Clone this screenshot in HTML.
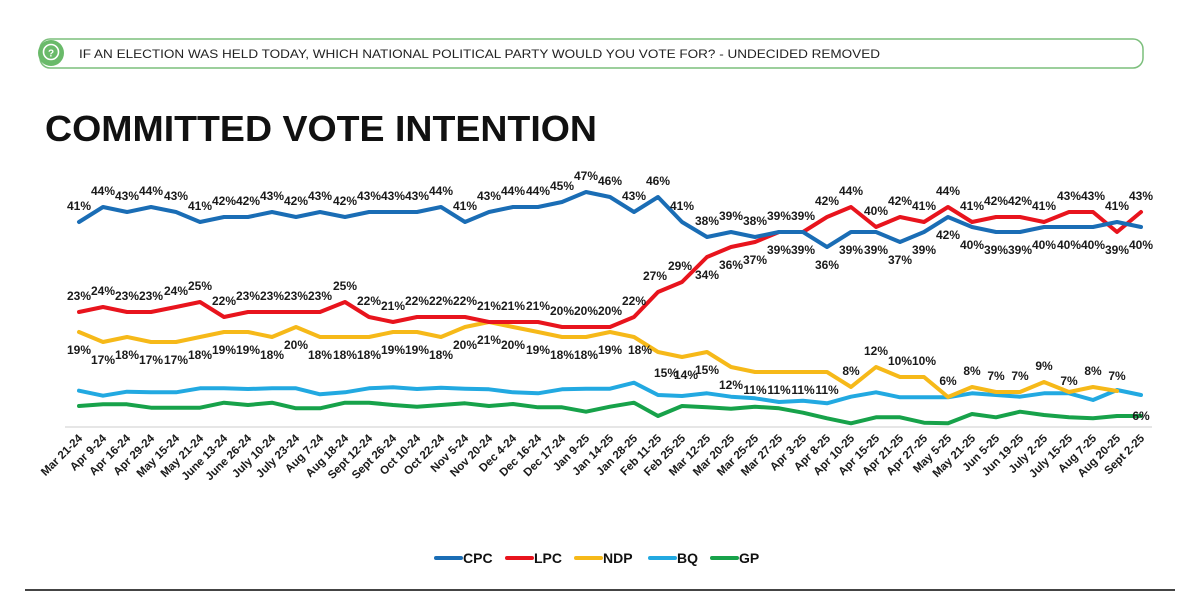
<!DOCTYPE html>
<html><head><meta charset="utf-8"><style>
html,body{margin:0;padding:0;background:#fff;}
svg{display:block;font-family:"Liberation Sans",sans-serif;}
.l{font-size:12px;font-weight:bold;fill:#1a1a1a;text-anchor:middle;}
.x{font-size:11.5px;font-weight:bold;fill:#1a1a1a;text-anchor:end;}
</style></head><body>
<svg width="1200" height="600" viewBox="0 0 1200 600" xmlns="http://www.w3.org/2000/svg">
<rect x="40" y="39" width="1103" height="29" rx="10" fill="#fff" stroke="#7cbf7c" stroke-width="1.5"/>
<circle cx="51" cy="53" r="13" fill="#6aba6a"/>
<circle cx="51" cy="52" r="7.5" fill="none" stroke="#fff" stroke-width="1.6"/>
<text x="51" y="56.5" font-size="10" font-weight="bold" fill="#fff" text-anchor="middle">?</text>
<text x="79" y="58" font-size="12" fill="#222" textLength="801" lengthAdjust="spacingAndGlyphs">IF AN ELECTION WAS HELD TODAY, WHICH NATIONAL POLITICAL PARTY WOULD YOU VOTE FOR? - UNDECIDED REMOVED</text>
<text x="45" y="141" font-size="36" font-weight="bold" fill="#111" textLength="552" lengthAdjust="spacingAndGlyphs">COMMITTED VOTE INTENTION</text>

<line x1="65" y1="427" x2="1152" y2="427" stroke="#ddd" stroke-width="1.5"/>

<g fill="none" stroke-width="4" stroke-linejoin="round" stroke-linecap="round">
<polyline stroke="#17a24a" points="79,406 103,404.3 127,404.3 151,407.7 176,407.7 200,407.7 224,402.7 248,405 272,402.7 296,408.3 320,408.3 345,402.7 369,402.7 393,405 417,406.7 441,405 465,403.3 489,406 513,404 538,407.3 562,407.3 586,411.7 610,406.7 634,402.7 658,416 682,406 707,407.3 731,408.7 755,406.7 779,408.3 803,412.7 827,418.3 851,423.3 876,417.3 900,417.3 924,422.7 948,423.3 972,414 996,417.3 1020,411.7 1044,415 1069,417.3 1093,418.3 1117,416 1141,416"/>
<polyline stroke="#22a9e1" points="79,390.7 103,395.7 127,391.7 151,392.3 176,392.3 200,388.3 224,388.3 248,389 272,388.3 296,388.3 320,394.3 345,392.3 369,388.3 393,387.3 417,389 441,387.7 465,388.7 489,389.3 513,392.3 538,393.3 562,389.3 586,388.7 610,388.7 634,382.7 658,395 682,396 707,393.3 731,396.7 755,398.3 779,402 803,400.7 827,403.3 851,396.7 876,392.3 900,397.3 924,397.3 948,397.3 972,393.3 996,395 1020,396.7 1044,393.3 1069,393.3 1093,400 1117,390 1141,395"/>
<polyline stroke="#f6b919" points="79,332 103,342 127,337 151,342 176,342 200,337 224,332 248,332 272,337 296,327 320,337 345,337 369,337 393,332 417,332 441,337 465,327 489,322 513,327 538,332 562,337 586,337 610,332 634,337 658,352 682,357 707,352 731,367 755,372 779,372 803,372 827,372 851,387 876,367 900,377 924,377 948,397 972,387 996,392 1020,392 1044,382 1069,392 1093,387 1117,391"/>
<polyline stroke="#e8141d" points="79,312 103,307 127,312 151,312 176,307 200,302 224,317 248,312 272,312 296,312 320,312 345,302 369,317 393,322 417,317 441,317 465,317 489,322 513,322 538,322 562,327 586,327 610,327 634,317 658,292 682,282 707,257 731,247 755,242 779,232 803,232 827,217 851,207 876,227 900,217 924,222 948,207 972,222 996,217 1020,217 1044,222 1069,212 1093,212 1117,232 1141,212"/>
<polyline stroke="#1a6db5" points="79,222 103,207 127,212 151,207 176,212 200,222 224,217 248,217 272,212 296,217 320,212 345,217 369,212 393,212 417,212 441,207 465,222 489,212 513,207 538,207 562,202 586,192 610,197 634,212 658,197 682,222 707,237 731,232 755,237 779,232 803,232 827,247 851,232 876,232 900,242 924,232 948,217 972,227 996,232 1020,232 1044,227 1069,227 1093,227 1117,222 1141,227"/>
</g>

<g class="l">
<!-- CPC -->
<text x="79" y="210">41%</text><text x="103" y="195">44%</text><text x="127" y="200">43%</text><text x="151" y="195">44%</text><text x="176" y="200">43%</text><text x="200" y="210">41%</text><text x="224" y="205">42%</text><text x="248" y="205">42%</text><text x="272" y="200">43%</text><text x="296" y="205">42%</text><text x="320" y="200">43%</text><text x="345" y="205">42%</text><text x="369" y="200">43%</text><text x="393" y="200">43%</text><text x="417" y="200">43%</text><text x="441" y="195">44%</text><text x="465" y="210">41%</text><text x="489" y="200">43%</text><text x="513" y="195">44%</text><text x="538" y="195">44%</text><text x="562" y="190">45%</text><text x="586" y="180">47%</text><text x="610" y="185">46%</text><text x="634" y="200">43%</text><text x="658" y="185">46%</text><text x="682" y="210">41%</text><text x="707" y="225">38%</text><text x="731" y="220">39%</text><text x="755" y="225">38%</text><text x="779" y="220">39%</text>
<text x="803" y="254">39%</text><text x="827" y="269">36%</text><text x="851" y="254">39%</text><text x="876" y="254">39%</text><text x="900" y="264">37%</text><text x="924" y="254">39%</text><text x="948" y="239">42%</text><text x="972" y="249">40%</text><text x="996" y="254">39%</text><text x="1020" y="254">39%</text><text x="1044" y="249">40%</text><text x="1069" y="249">40%</text><text x="1093" y="249">40%</text><text x="1117" y="210">41%</text><text x="1141" y="249">40%</text>
<!-- LPC -->
<text x="79" y="300">23%</text><text x="103" y="295">24%</text><text x="127" y="300">23%</text><text x="151" y="300">23%</text><text x="176" y="295">24%</text><text x="200" y="290">25%</text><text x="224" y="305">22%</text><text x="248" y="300">23%</text><text x="272" y="300">23%</text><text x="296" y="300">23%</text><text x="320" y="300">23%</text><text x="345" y="290">25%</text><text x="369" y="305">22%</text><text x="393" y="310">21%</text><text x="417" y="305">22%</text><text x="441" y="305">22%</text><text x="465" y="305">22%</text><text x="489" y="310">21%</text><text x="513" y="310">21%</text><text x="538" y="310">21%</text><text x="562" y="315">20%</text><text x="586" y="315">20%</text><text x="610" y="315">20%</text><text x="634" y="305">22%</text><text x="655" y="280">27%</text><text x="680" y="270">29%</text>
<text x="707" y="279">34%</text><text x="731" y="269">36%</text><text x="755" y="264">37%</text><text x="779" y="254">39%</text><text x="803" y="220">39%</text><text x="827" y="205">42%</text><text x="851" y="195">44%</text><text x="876" y="215">40%</text><text x="900" y="205">42%</text><text x="924" y="210">41%</text><text x="948" y="195">44%</text><text x="972" y="210">41%</text><text x="996" y="205">42%</text><text x="1020" y="205">42%</text><text x="1044" y="210">41%</text><text x="1069" y="200">43%</text><text x="1093" y="200">43%</text><text x="1117" y="254">39%</text><text x="1141" y="200">43%</text>
<!-- NDP -->
<text x="79" y="354">19%</text><text x="103" y="364">17%</text><text x="127" y="359">18%</text><text x="151" y="364">17%</text><text x="176" y="364">17%</text><text x="200" y="359">18%</text><text x="224" y="354">19%</text><text x="248" y="354">19%</text><text x="272" y="359">18%</text><text x="296" y="349">20%</text><text x="320" y="359">18%</text><text x="345" y="359">18%</text><text x="369" y="359">18%</text><text x="393" y="354">19%</text><text x="417" y="354">19%</text><text x="441" y="359">18%</text><text x="465" y="349">20%</text><text x="489" y="344">21%</text><text x="513" y="349">20%</text><text x="538" y="354">19%</text><text x="562" y="359">18%</text><text x="586" y="359">18%</text><text x="610" y="354">19%</text><text x="640" y="354">18%</text><text x="666" y="377">15%</text><text x="686" y="379">14%</text><text x="707" y="374">15%</text><text x="731" y="389">12%</text><text x="755" y="394">11%</text><text x="779" y="394">11%</text><text x="803" y="394">11%</text><text x="827" y="394">11%</text>
<text x="851" y="375">8%</text><text x="876" y="355">12%</text><text x="900" y="365">10%</text><text x="924" y="365">10%</text><text x="948" y="385">6%</text><text x="972" y="375">8%</text><text x="996" y="380">7%</text><text x="1020" y="380">7%</text><text x="1044" y="370">9%</text><text x="1069" y="385">7%</text><text x="1093" y="375">8%</text><text x="1117" y="380">7%</text>
<!-- GP -->
<text x="1141" y="420">6%</text>
</g>

<g class="x">
<text transform="translate(83,439) rotate(-45)">Mar 21-24</text>
<text transform="translate(107,439) rotate(-45)">Apr 9-24</text>
<text transform="translate(131,439) rotate(-45)">Apr 16-24</text>
<text transform="translate(155,439) rotate(-45)">Apr 29-24</text>
<text transform="translate(180,439) rotate(-45)">May 15-24</text>
<text transform="translate(204,439) rotate(-45)">May 21-24</text>
<text transform="translate(228,439) rotate(-45)">June 13-24</text>
<text transform="translate(252,439) rotate(-45)">June 26-24</text>
<text transform="translate(276,439) rotate(-45)">July 10-24</text>
<text transform="translate(300,439) rotate(-45)">July 23-24</text>
<text transform="translate(324,439) rotate(-45)">Aug 7-24</text>
<text transform="translate(349,439) rotate(-45)">Aug 18-24</text>
<text transform="translate(373,439) rotate(-45)">Sept 12-24</text>
<text transform="translate(397,439) rotate(-45)">Sept 26-24</text>
<text transform="translate(421,439) rotate(-45)">Oct 10-24</text>
<text transform="translate(445,439) rotate(-45)">Oct 22-24</text>
<text transform="translate(469,439) rotate(-45)">Nov 5-24</text>
<text transform="translate(493,439) rotate(-45)">Nov 20-24</text>
<text transform="translate(517,439) rotate(-45)">Dec 4-24</text>
<text transform="translate(542,439) rotate(-45)">Dec 16-24</text>
<text transform="translate(566,439) rotate(-45)">Dec 17-24</text>
<text transform="translate(590,439) rotate(-45)">Jan 9-25</text>
<text transform="translate(614,439) rotate(-45)">Jan 14-25</text>
<text transform="translate(638,439) rotate(-45)">Jan 28-25</text>
<text transform="translate(662,439) rotate(-45)">Feb 11-25</text>
<text transform="translate(686,439) rotate(-45)">Feb 25-25</text>
<text transform="translate(711,439) rotate(-45)">Mar 12-25</text>
<text transform="translate(735,439) rotate(-45)">Mar 20-25</text>
<text transform="translate(759,439) rotate(-45)">Mar 25-25</text>
<text transform="translate(783,439) rotate(-45)">Mar 27-25</text>
<text transform="translate(807,439) rotate(-45)">Apr 3-25</text>
<text transform="translate(831,439) rotate(-45)">Apr 8-25</text>
<text transform="translate(855,439) rotate(-45)">Apr 10-25</text>
<text transform="translate(880,439) rotate(-45)">Apr 15-25</text>
<text transform="translate(904,439) rotate(-45)">Apr 21-25</text>
<text transform="translate(928,439) rotate(-45)">Apr 27-25</text>
<text transform="translate(952,439) rotate(-45)">May 5-25</text>
<text transform="translate(976,439) rotate(-45)">May 21-25</text>
<text transform="translate(1000,439) rotate(-45)">Jun 5-25</text>
<text transform="translate(1024,439) rotate(-45)">Jun 19-25</text>
<text transform="translate(1048,439) rotate(-45)">July 2-25</text>
<text transform="translate(1073,439) rotate(-45)">July 15-25</text>
<text transform="translate(1097,439) rotate(-45)">Aug 7-25</text>
<text transform="translate(1121,439) rotate(-45)">Aug 20-25</text>
<text transform="translate(1145,439) rotate(-45)">Sept 2-25</text>
</g>

<g stroke-width="4" stroke-linecap="round">
<line x1="436" y1="558" x2="461" y2="558" stroke="#1a6db5"/>
<line x1="507" y1="558" x2="532" y2="558" stroke="#e8141d"/>
<line x1="576" y1="558" x2="601" y2="558" stroke="#f6b919"/>
<line x1="650" y1="558" x2="675" y2="558" stroke="#22a9e1"/>
<line x1="712" y1="558" x2="737" y2="558" stroke="#17a24a"/>
</g>
<g font-size="14" font-weight="bold" fill="#111">
<text x="463" y="563">CPC</text>
<text x="534" y="563">LPC</text>
<text x="603" y="563">NDP</text>
<text x="677" y="563">BQ</text>
<text x="739" y="563">GP</text>
</g>
<line x1="25" y1="590" x2="1175" y2="590" stroke="#444" stroke-width="2"/>
</svg>
</body></html>
